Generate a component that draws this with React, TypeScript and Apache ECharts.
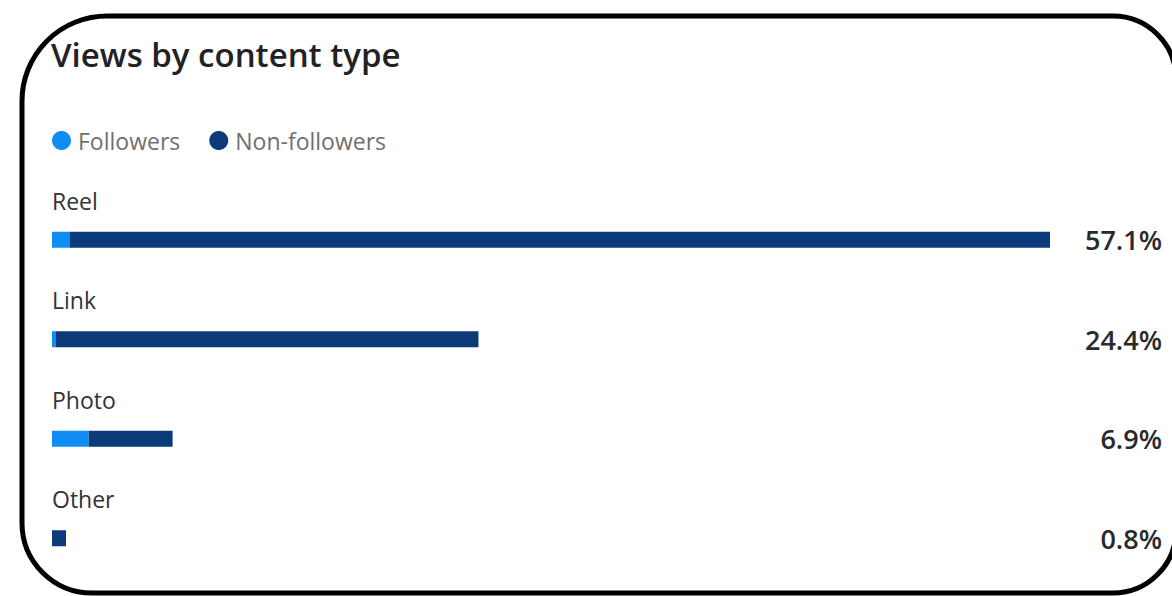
import React, { useEffect, useRef } from "react";
import * as echarts from "echarts";

const categories = ["Reel", "Link", "Photo", "Other"];
const followers = [1.0, 0.2, 2.1, 0.0];
const nonFollowers = [56.1, 24.2, 4.8, 0.8];
const totals = [57.1, 24.4, 6.9, 0.8];
const totalLabels = totals.map((v) => v.toFixed(1) + "%");

const FONT = "'Open Sans', 'Noto Sans', sans-serif";

export default function App() {
  const ref = useRef<HTMLDivElement>(null);
  useEffect(() => {
    document.body.style.margin = "0";
    const chart = echarts.init(ref.current!, null, { renderer: "svg" });
    chart.setOption({
      animation: false,
      backgroundColor: "#ffffff",
      title: {
        text: "Views by content type",
        left: 51,
        top: 38,
        padding: 0,
        textStyle: { fontFamily: FONT, fontSize: 33, fontWeight: 600, color: "#222222" },
      },
      legend: {
        left: 52,
        top: 129,
        padding: 0,
        icon: "circle",
        itemWidth: 19,
        itemHeight: 19,
        itemGap: 29,
        textStyle: { fontFamily: FONT, fontSize: 23, color: "#707070", padding: [0, 0, 0, 2] },
        data: ["Followers", "Non-followers"],
      },
      grid: { left: 52, right: 122, top: 190, bottom: 8 },
      xAxis: { type: "value", min: 0, max: Math.max(...totals), show: false },
      yAxis: [
        {
          type: "category",
          inverse: true,
          data: categories,
          axisLine: { show: false },
          axisTick: { show: false },
          splitLine: { show: false },
          axisLabel: {
            inside: true,
            margin: 0,
            align: "left",
            verticalAlign: "bottom",
            lineHeight: 78,
            fontFamily: FONT,
            fontSize: 23,
            color: "#333333",
          },
        },
        {
          type: "category",
          inverse: true,
          position: "right",
          data: totalLabels,
          axisLine: { show: false },
          axisTick: { show: false },
          splitLine: { show: false },
          axisLabel: {
            margin: 112,
            align: "right",
            verticalAlign: "middle",
            fontFamily: FONT,
            fontSize: 27,
            fontWeight: 600,
            color: "#2a2a2a",
          },
        },
      ],
      series: [
        {
          name: "Followers",
          type: "bar",
          stack: "views",
          barWidth: 16,
          yAxisIndex: 0,
          itemStyle: { color: "#0f8df2" },
          data: followers,
        },
        {
          name: "Non-followers",
          type: "bar",
          stack: "views",
          barWidth: 16,
          yAxisIndex: 0,
          itemStyle: { color: "#0b3b78" },
          data: nonFollowers,
        },
      ],
      graphic: [
        {
          type: "rect",
          shape: { x: 22, y: 16, width: 1154, height: 577, r: [85, 63, 63, 70] },
          style: { fill: "none", stroke: "#000000", lineWidth: 5 },
          silent: true,
        },
      ],
    });
    return () => chart.dispose();
  }, []);
  return <div ref={ref} style={{ position: "absolute", left: 0, top: 0, width: 1172, height: 596 }} />;
}
